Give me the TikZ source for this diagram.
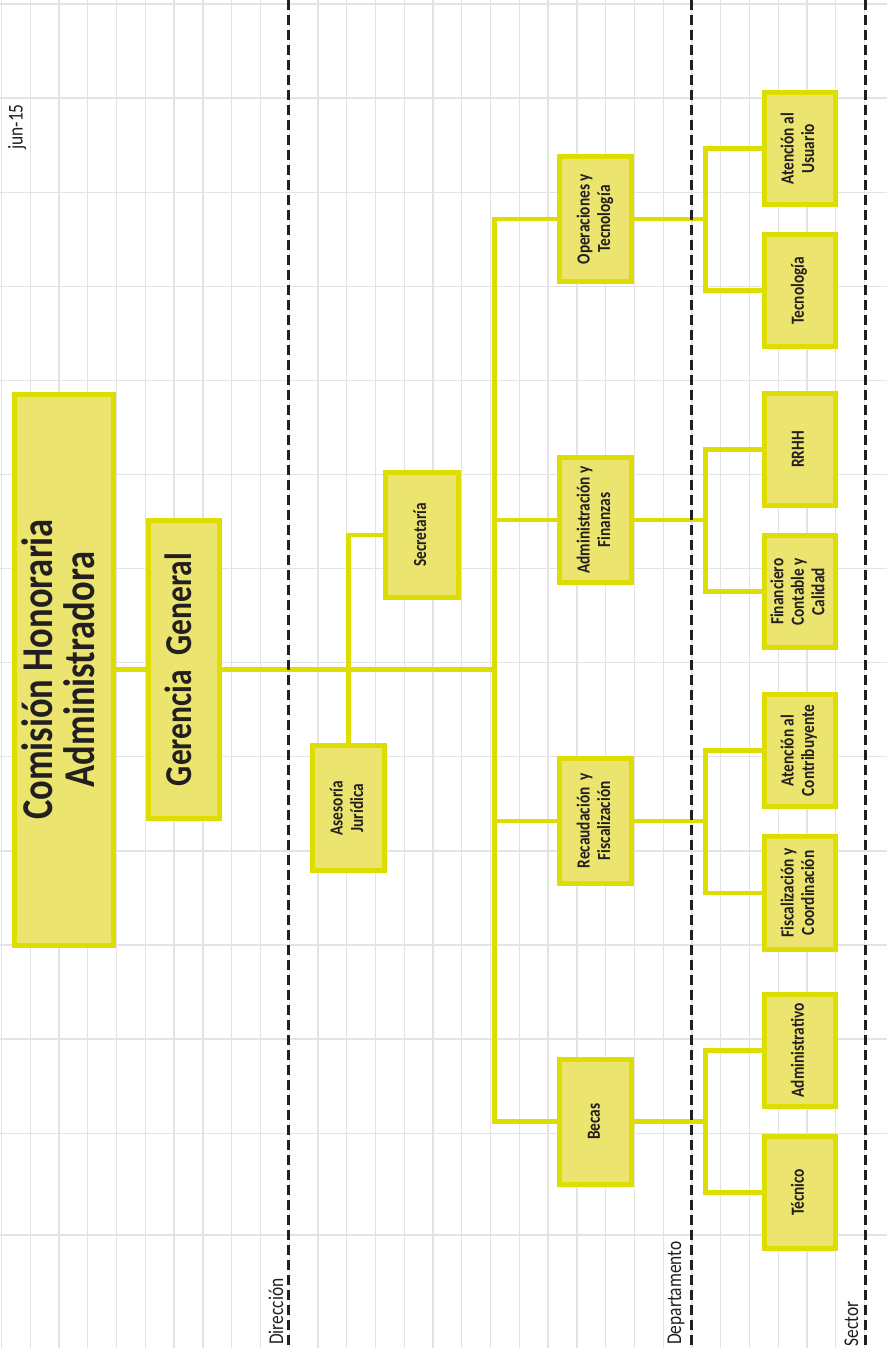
\documentclass[tikz,border=0pt]{standalone}
\usepackage{fontspec}
\setmainfont{Carlito}[FakeStretch=0.83]
\usepackage{graphicx}
\usetikzlibrary{backgrounds}
\definecolor{boxline}{RGB}{221,221,0}
\definecolor{boxfill}{RGB}{235,228,110}
\definecolor{gridc}{RGB}{227,227,227}
\definecolor{dashc}{RGB}{35,31,32}
\newcommand{\vt}[1]{\rotatebox{90}{\begin{tabular}{@{}c@{}}#1\end{tabular}}}
\tikzset{
  orgbox/.style={draw=boxline, fill=boxfill, line width=5pt, inner sep=0pt, text=dashc,
    font=\bfseries\fontsize{18.5}{20.5}\selectfont},
  deptbox/.style={orgbox, minimum width=71.7pt, minimum height=124.7pt},
  sectbox/.style={orgbox, minimum width=71pt, minimum height=112.5pt},
  conn/.style={draw=boxline, line width=4.6pt},
  gridline/.style={draw=gridc, line width=1.3pt},
  levelline/.style={draw=dashc, line width=3pt, dash pattern=on 10pt off 5pt},
  lbl/.style={rotate=90, anchor=base west, inner sep=0pt, text=dashc,
    font=\fontsize{21}{24}\selectfont}
}
\begin{document}
\begin{tikzpicture}[x=1pt,y=-1pt]
\useasboundingbox (0,0) rectangle (887,1348);

% boxes
\node[orgbox, minimum width=98.7pt, minimum height=551pt, font=\bfseries\fontsize{44}{39}\selectfont]
  (com) at (63.8,669.5) {\vt{Comisión Honoraria\\Administradora}};
\node[orgbox, minimum width=70.7pt, minimum height=298.3pt, font=\bfseries\fontsize{38}{40}\selectfont]
  (ger) at (183.8,669.5) {\vt{Gerencia~ General}};
\node[orgbox, minimum width=72.4pt, minimum height=125pt] (sec) at (422,535) {\vt{Secretaría}};
\node[orgbox, minimum width=72.4pt, minimum height=125pt] (ase) at (348.7,808.3) {\vt{Asesoría\\Jurídica}};

\node[deptbox] (ops) at (595.7,219.2) {\vt{Operaciones y\\Tecnología}};
\node[deptbox] (afin) at (595.7,520) {\vt{Administración y\\Finanzas}};
\node[deptbox] (rec) at (595.7,820.8) {\vt{Recaudación~ y\\Fiscalización}};
\node[deptbox] (bec) at (595.7,1121.7) {\vt{Becas}};

\node[sectbox] (usu) at (799.7,148.7) {\vt{Atención al\\Usuario}};
\node[sectbox] (tec) at (799.7,290.7) {\vt{Tecnología}};
\node[sectbox] (rrhh) at (799.7,449.5) {\vt{RRHH}};
\node[sectbox] (fin) at (799.7,591.7) {\vt{Financiero\\Contable y\\Calidad}};
\node[sectbox] (con) at (799.7,750.5) {\vt{Atención al\\Contribuyente}};
\node[sectbox] (fis) at (799.7,892.8) {\vt{Fiscalización y\\Coordinación}};
\node[sectbox] (adm) at (799.7,1050.5) {\vt{Administrativo}};
\node[sectbox] (tcn) at (799.7,1192.3) {\vt{Técnico}};

\path (ger.east) ++(272.6,0) coordinate (bus);
\path (ops.east) ++(71.7,0) coordinate (b1);
\path (afin.east) ++(71.7,0) coordinate (b2);
\path (rec.east) ++(71.7,0) coordinate (b3);
\path (bec.east) ++(71.7,0) coordinate (b4);

\begin{scope}[on background layer]
\fill[white] (0,0) rectangle (887,1348);
% grid
\foreach \k in {0,...,30} \draw[gridline] ({1.5+28.77*\k},0) -- ({1.5+28.77*\k},1348);
\foreach \k in {0,...,12} \draw[gridline] (0,{4+94.1*\k}) -- (887,{4+94.1*\k});
\draw[gridline] (0,1235) -- (887,1235);
% connectors
\draw[conn] (com.east) -- (ger.west);
\draw[conn] (ger.east) -- (bus);
\draw[conn] (ops.west) -| (bus) |- (bec.west);
\draw[conn] (afin.west) -- (afin.west -| bus);
\draw[conn] (rec.west) -- (rec.west -| bus);
\draw[conn] (sec.west) -| (ase.north);
\draw[conn] (ops.east) -- (b1);
\draw[conn] (usu.west) -| (b1) |- (tec.west);
\draw[conn] (afin.east) -- (b2);
\draw[conn] (rrhh.west) -| (b2) |- (fin.west);
\draw[conn] (rec.east) -- (b3);
\draw[conn] (con.west) -| (b3) |- (fis.west);
\draw[conn] (bec.east) -- (b4);
\draw[conn] (adm.west) -| (b4) |- (tcn.west);
\end{scope}

% level lines
\coordinate (d1t) at (288.5,0); \coordinate (d1b) at (288.5,1348);
\coordinate (d2t) at (691.7,0); \coordinate (d2b) at (691.7,1348);
\coordinate (d3t) at (865.5,0); \coordinate (d3b) at (865.5,1348);
\draw[levelline] (d1t) -- (d1b);
\draw[levelline] (d2t) -- (d2b);
\draw[levelline] (d3t) -- (d3b);

% labels
\node[lbl] (jun) at (22.5,150) {jun-15};
\node[lbl] (ldir) at (283,1345) {Dirección};
\node[lbl] (ldep) at (681,1345) {Departamento};
\node[lbl] (lsec) at (858,1346.5) {Sector};
\end{tikzpicture}
\end{document}
